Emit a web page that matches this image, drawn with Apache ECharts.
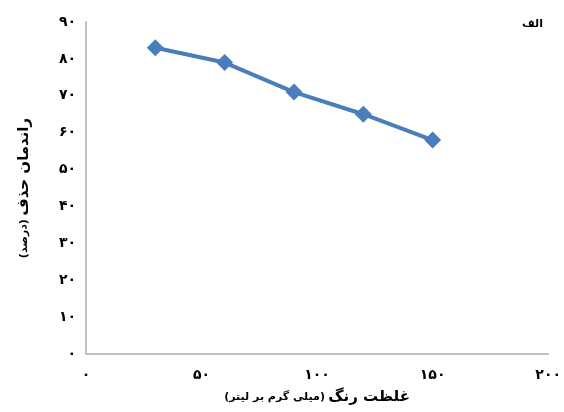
<!DOCTYPE html>
<html>
<head>
<meta charset="utf-8">
<script src="https://cdn.jsdelivr.net/npm/echarts@6/dist/echarts.min.js"></script>
<style>
  html, body { margin: 0; padding: 0; background: #fff; }
  #chart { width: 564px; height: 412px; }
</style>
</head>
<body>
<div id="chart"></div>
<script>
// غلظت رنگ (mg/L) و راندمان حذف (%)
var concentrations = [30, 60, 90, 120, 150];
var removal = [83, 79, 71, 65, 58];
var xTickLabels = ["۰", "۵۰", "۱۰۰", "۱۵۰", "۲۰۰"];
var yTickLabels = ["۰", "۱۰", "۲۰", "۳۰", "۴۰", "۵۰", "۶۰", "۷۰", "۸۰", "۹۰"];

var font = "DejaVu Sans";
var chart = echarts.init(document.getElementById("chart"));

var option = {
  backgroundColor: "#fff",
  animation: false,
  grid: { left: 86, right: 12, top: 22, bottom: 58 },
  title: {
    text: "الف",
    right: 16,
    top: 14,
    textStyle: { fontFamily: font, fontSize: 11, fontWeight: "bold", color: "#000" }
  },
  xAxis: {
    type: "value",
    min: 0,
    max: 200,
    interval: 50,
    axisLine: { lineStyle: { color: "#bfbfbf", width: 2 } },
    axisTick: { show: false },
    splitLine: { show: false },
    axisLabel: {
      margin: 14,
      fontFamily: font,
      fontSize: 14,
      fontWeight: "bold",
      color: "#000",
      formatter: function (v) { return xTickLabels[Math.round(v / 50)]; }
    },
    name: "{s|(میلی گرم بر لیتر)} {b|غلظت رنگ}",
    nameLocation: "middle",
    nameGap: 36,
    nameTextStyle: {
      rich: {
        b: { fontFamily: font, fontSize: 15, fontWeight: "bold", color: "#000" },
        s: { fontFamily: font, fontSize: 11, fontWeight: "bold", color: "#000" }
      }
    }
  },
  yAxis: {
    type: "value",
    min: 0,
    max: 90,
    interval: 10,
    axisLine: { show: true, lineStyle: { color: "#bfbfbf", width: 2 } },
    axisTick: { show: false },
    splitLine: { show: false },
    axisLabel: {
      margin: 10,
      fontFamily: font,
      fontSize: 14,
      fontWeight: "bold",
      color: "#000",
      formatter: function (v) { return yTickLabels[Math.round(v / 10)]; }
    },
    name: "{s|(درصد)} {b|راندمان حذف}",
    nameLocation: "middle",
    nameRotate: 90,
    nameGap: 54,
    nameTextStyle: {
      rich: {
        b: { fontFamily: font, fontSize: 15, fontWeight: "bold", color: "#000" },
        s: { fontFamily: font, fontSize: 11, fontWeight: "bold", color: "#000" }
      }
    }
  },
  series: [
    {
      type: "line",
      data: concentrations.map(function (c, i) { return [c, removal[i]]; }),
      symbol: "diamond",
      symbolSize: 17,
      itemStyle: { color: "#4a7ebb" },
      lineStyle: { color: "#4a7ebb", width: 4 }
    }
  ]
};
chart.setOption(option);
</script>
</body>
</html>
